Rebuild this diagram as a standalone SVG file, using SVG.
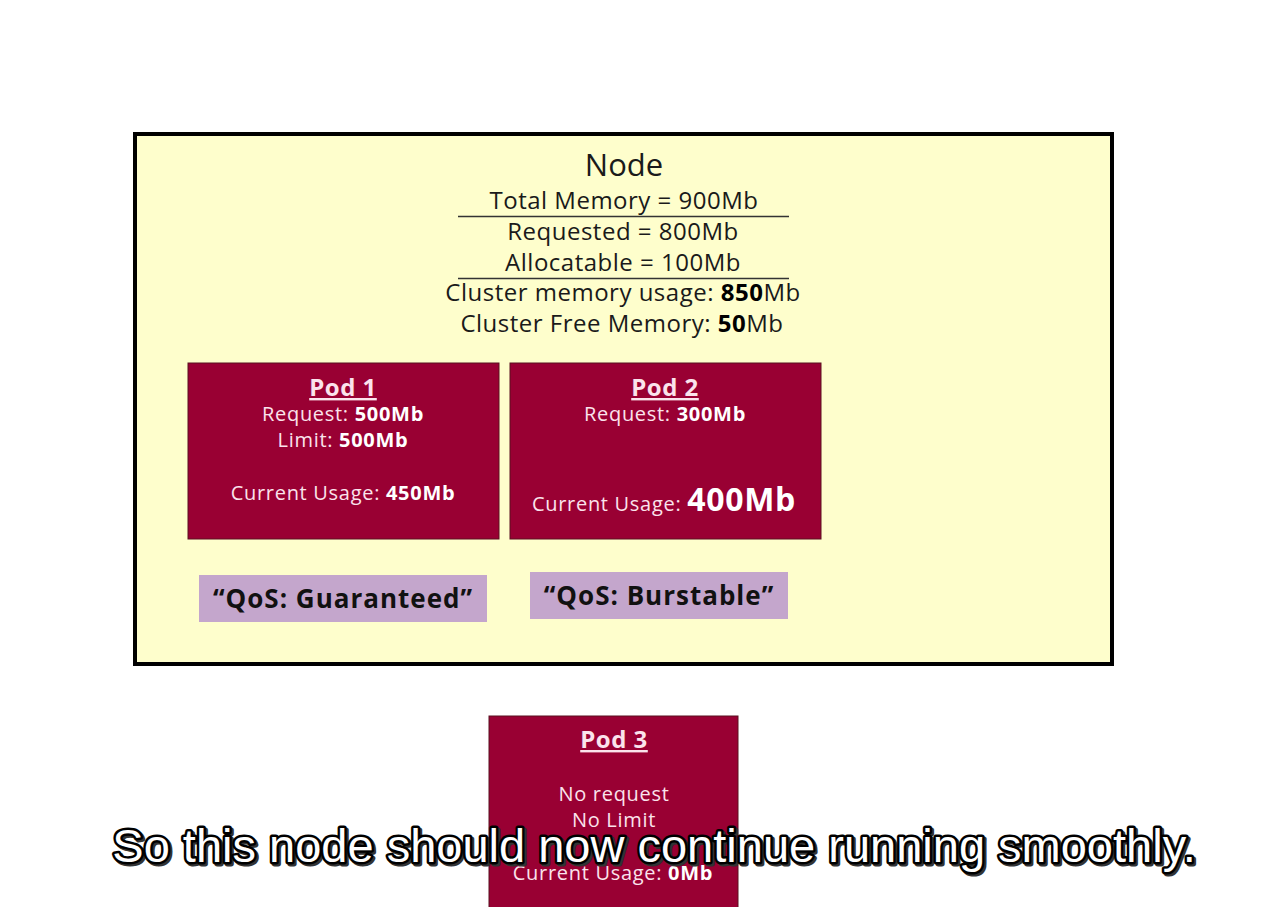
<svg xmlns="http://www.w3.org/2000/svg" width="1268" height="907" viewBox="0 0 1268 907">
<style>
.t{font-family:"Open Sans","Noto Sans",sans-serif;text-anchor:middle}
.nd{fill:#1a1a1a;font-size:24px;letter-spacing:0.5px}
.pod{fill:#990033;stroke:#5a1020;stroke-width:1}
.pt{fill:#fbe3ec;font-size:20px;letter-spacing:0.7px}
.ph{fill:#fbe3ec;font-size:24px;letter-spacing:0.5px;font-weight:bold;text-decoration:underline}
.b{font-weight:bold;fill:#ffffff}
.qos{fill:#c4a6cc}
.qt{fill:#111;font-size:26px;letter-spacing:1px;font-weight:bold}
.sub{font-family:"Liberation Sans",Arial,sans-serif;font-size:47px;text-anchor:middle}
</style>
<rect width="1268" height="907" fill="#ffffff"/>
<g id="node">
<rect x="135" y="134" width="977" height="530" fill="#fefecc" stroke="#000" stroke-width="4"/>
<text class="t" x="624" y="176" font-size="31" fill="#1a1a1a">Node</text>
<text class="t nd" x="624" y="209">Total Memory = 900Mb</text>
<line x1="458" y1="216.5" x2="789" y2="216.5" stroke="#333" stroke-width="1.3"/>
<text class="t nd" x="623" y="240">Requested = 800Mb</text>
<text class="t nd" x="623" y="271">Allocatable = 100Mb</text>
<line x1="458" y1="278.5" x2="789" y2="278.5" stroke="#333" stroke-width="1.3"/>
<text class="t nd" x="623" y="301">Cluster memory usage: <tspan font-weight="bold" fill="#000">850</tspan>Mb</text>
<text class="t nd" x="622" y="332">Cluster Free Memory: <tspan font-weight="bold" fill="#000">50</tspan>Mb</text>
</g>
<g id="pod1">
<rect class="pod" x="188" y="363" width="311" height="176"/>
<text class="t ph" x="343" y="396">Pod 1</text>
<text class="t pt" x="343" y="421">Request: <tspan class="b">500Mb</tspan></text>
<text class="t pt" x="343" y="447">Limit: <tspan class="b">500Mb</tspan></text>
<text class="t pt" x="343" y="500">Current Usage: <tspan class="b">450Mb</tspan></text>
</g>
<g id="pod2">
<rect class="pod" x="510" y="363" width="311" height="176"/>
<text class="t ph" x="665" y="396">Pod 2</text>
<text class="t pt" x="665" y="421">Request: <tspan class="b">300Mb</tspan></text>
<text class="t pt" x="664" y="511">Current Usage: <tspan class="b" font-size="32">400Mb</tspan></text>
</g>
<g id="qos1">
<rect class="qos" x="199" y="575" width="288" height="47"/>
<text class="t qt" x="343" y="608">“QoS: Guaranteed”</text>
</g>
<g id="qos2">
<rect class="qos" x="530" y="572" width="258" height="47"/>
<text class="t qt" x="659" y="605">“QoS: Burstable”</text>
</g>
<g id="pod3">
<rect class="pod" x="489" y="716" width="249" height="200"/>
<text class="t ph" x="614" y="748">Pod 3</text>
<text class="t pt" x="614" y="801">No request</text>
<text class="t pt" x="614" y="827">No Limit</text>
<text class="t pt" x="613" y="880">Current Usage: <tspan class="b">0Mb</tspan></text>
</g>
<g id="connectors"></g>
<g id="subtitle">
<text class="sub" x="656" y="864" fill="#333" stroke="#333" stroke-width="5" stroke-linejoin="round">So this node should now continue running smoothly.</text>
<text class="sub" x="654" y="862" fill="#fff" stroke="#000" stroke-width="5" stroke-linejoin="round" paint-order="stroke">So this node should now continue running smoothly.</text>
</g>
</svg>
